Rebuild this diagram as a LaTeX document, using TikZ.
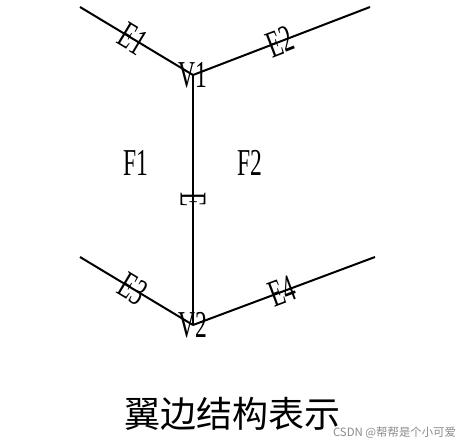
\documentclass[tikz,border=0pt]{standalone}
\usepackage{fontspec}
\setmainfont{Liberation Serif}
\newfontfamily\cjk{Noto Sans CJK SC}
\newcommand{\nar}[1]{\scalebox{0.62}[1.0]{\fontsize{38}{38}\selectfont #1}}
\begin{document}
\begin{tikzpicture}[x=1pt,y=-1pt,
  edge/.style={line width=2pt,black},
  lbl/.style={inner sep=0pt,outer sep=0pt}]
\useasboundingbox[fill=white] (0,0) rectangle (470,447);
\coordinate (v1) at (193,75);
\coordinate (v2) at (193,325);
\coordinate (a1) at (80,7);
\coordinate (a2) at (370,7);
\coordinate (a3) at (80,257);
\coordinate (a4) at (375,257);
\draw[edge] (a1) -- (v1) node[lbl,pos=0.47,sloped] (e1) {\nar{E1}};
\draw[edge] (v1) -- (a2) node[lbl,pos=0.49,sloped] (e2) {\nar{E2}};
\draw[edge] (v1) -- (v2) node[lbl,pos=0.5,rotate=-90] (e) {\nar{E}};
\draw[edge] (a3) -- (v2) node[lbl,pos=0.47,sloped] (e3) {\nar{E3}};
\draw[edge] (v2) -- (a4) node[lbl,pos=0.49,sloped] (e4) {\nar{E4}};
\node[lbl] (v1l) at (v1) {\nar{V1}};
\node[lbl] (v2l) at (v2) {\nar{V2}};
\node[lbl] (f1) at (136,163) {\nar{F1}};
\node[lbl] (f2) at (250,163) {\nar{F2}};
\node[lbl] (cap) at (232,414) {\cjk\fontsize{36}{36}\selectfont 翼边结构表示};
\node[lbl,anchor=east,text=black!45] (wm) at (456,433) {\cjk\fontsize{11.4}{12}\selectfont CSDN @帮帮是个小可爱};
\end{tikzpicture}
\end{document}
